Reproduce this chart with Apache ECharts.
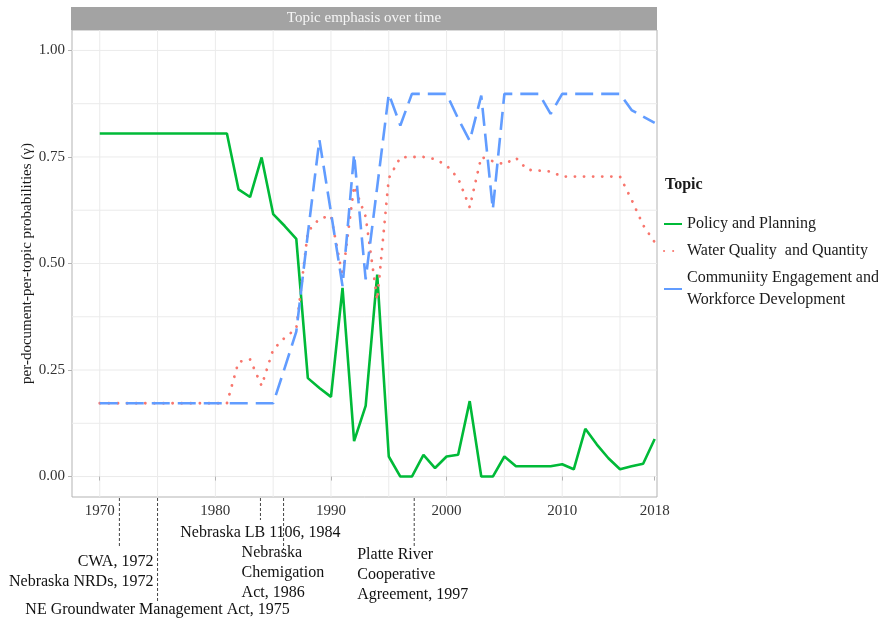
<!DOCTYPE html>
<html><head><meta charset="utf-8">
<script src="https://cdn.jsdelivr.net/npm/echarts@6/dist/echarts.min.js"></script>
<style>html,body{margin:0;padding:0;background:#fff}#main{width:878px;height:623px}</style>
</head><body><div id="main"></div>
<script>
const years = [1970,1971,1972,1973,1974,1975,1976,1977,1978,1979,1980,1981,1982,1983,1984,1985,1986,1987,1988,1989,
  1990,1991,1992,1993,1994,1995,1996,1997,1998,1999,2000,2001,2002,2003,2004,2005,2006,2007,2008,2009,
  2010,2011,2012,2013,2014,2015,2016,2017,2018];
const policyPlanning = [0.805,0.805,0.805,0.805,0.805,0.805,0.805,0.805,0.805,0.805,0.805,0.805,0.674,0.656,0.749,0.616,0.588,0.558,0.231,0.208,
  0.187,0.443,0.083,0.166,0.474,0.047,0.0,0.0,0.051,0.020,0.047,0.051,0.177,0.0,0.0,0.047,0.024,0.024,0.024,0.024,
  0.029,0.017,0.112,0.075,0.043,0.017,0.024,0.030,0.088];
const waterQuality = [0.172,0.172,0.172,0.172,0.172,0.172,0.172,0.172,0.172,0.172,0.172,0.172,0.269,0.275,0.213,0.298,0.326,0.347,0.575,0.605,
  0.612,0.47,0.682,0.61,0.414,0.70,0.749,0.75,0.75,0.745,0.73,0.70,0.632,0.75,0.74,0.733,0.748,0.72,0.718,0.716,
  0.704,0.704,0.704,0.704,0.704,0.704,0.65,0.59,0.55];
const communityEngagement = [0.172,0.172,0.172,0.172,0.172,0.172,0.172,0.172,0.172,0.172,0.172,0.172,0.172,0.172,0.172,0.172,0.255,0.34,0.57,0.79,
  0.62,0.447,0.757,0.463,0.68,0.898,0.824,0.898,0.898,0.898,0.898,0.84,0.788,0.894,0.627,0.898,0.898,0.898,0.898,0.851,
  0.898,0.898,0.898,0.898,0.898,0.898,0.86,0.845,0.830];
const topicNames = ['Policy and Planning', 'Water Quality  and Quantity', 'Communiity Engagement and Workforce Development'];
const legendLabels = ['Policy and Planning', 'Water Quality  and Quantity', 'Communiity Engagement and\nWorkforce Development'];
const xTickValues = [1970, 1980, 1990, 2000, 2010, 2018];
const yTickValues = [0, 0.25, 0.5, 0.75, 1];
const xGridValues = [1970, 1975, 1980, 1985, 1990, 1995, 2000, 2005, 2010, 2015];
const yGridValues = [0, 0.125, 0.25, 0.375, 0.5, 0.625, 0.75, 0.875, 1];
const eventPositions = [1971.7, 1975, 1983.9, 1985.9, 1997.2];
const eventLabels = ['CWA, 1972\nNebraska NRDs, 1972', 'NE Groundwater Management Act, 1975', 'Nebraska LB 1106, 1984',
  'Nebraska\nChemigation\nAct, 1986', 'Platte River\nCooperative\nAgreement, 1997'];
const chartTitle = 'Topic emphasis over time';
const yAxisTitle = 'per-document-per-topic probabilities (\u03b3)';
const legendTitle = 'Topic';

// layout (pixels relative to axis bottom / event line)
const annotLayout = [
  {len: 51, dx: 34, top: 55, align: 'right'},
  {len: 106, dx: 0, top: 103, align: 'center'},
  {len: 23, dx: 0, top: 26, align: 'center'},
  {len: 53, dx: -42, top: 46, align: 'left'},
  {len: 50, dx: -57, top: 48, align: 'left'}
];
const colors = ['#00BA38', '#F8766D', '#619CFF'];
const serif = '"Liberation Serif", "Times New Roman", serif';

const chart = echarts.init(document.getElementById('main'), null, {renderer: 'canvas'});
const mk = arr => years.map((y, i) => [y, arr[i]]);

const option = {
  animation: false,
  backgroundColor: '#fff',
  grid: {left: 72, right: 221, top: 30, bottom: 126, show: true, borderColor: '#b3b3b3', borderWidth: 1, containLabel: false},
  xAxis: {
    type: 'value', min: 1967.6, max: 2018.2,
    splitLine: {show: false},
    axisLine: {show: false},
    axisTick: {show: true, customValues: xTickValues, length: 4, lineStyle: {color: '#b3b3b3'}},
    axisLabel: {customValues: xTickValues, margin: 7, fontSize: 15, fontFamily: serif, color: '#333', formatter: v => String(v)}
  },
  yAxis: {
    type: 'value', min: -0.048, max: 1.048,
    splitLine: {show: false},
    axisLine: {show: false},
    axisTick: {show: true, customValues: yTickValues, length: 4, lineStyle: {color: '#b3b3b3'}},
    axisLabel: {customValues: yTickValues, margin: 7, fontSize: 15, fontFamily: serif, color: '#333', formatter: v => v.toFixed(2)},
    name: yAxisTitle, nameLocation: 'middle', nameGap: 37, nameMoveOverlap: false,
    nameTextStyle: {fontSize: 15, fontFamily: serif, color: '#1a1a1a'}
  },
  legend: {
    data: topicNames, orient: 'vertical', left: 658, top: 208, itemGap: 5, itemWidth: 18, itemHeight: 10,
    itemStyle: {opacity: 0},
    textStyle: {fontSize: 16, fontFamily: serif, color: '#1a1a1a', lineHeight: 22},
    formatter: name => legendLabels[topicNames.indexOf(name)]
  },
  graphic: [
    {type: 'rect', left: 71, top: 7, shape: {width: 586, height: 23}, style: {fill: '#a3a3a3'}, silent: true},
    {type: 'text', x: 364, y: 18.5, style: {text: chartTitle, fill: '#f5f5f5', font: '15px ' + serif, align: 'center', verticalAlign: 'middle', textAlign: 'center', textVerticalAlign: 'middle'}},
    {type: 'text', x: 665, y: 185, style: {text: legendTitle, fill: '#1a1a1a', font: 'bold 16px ' + serif, align: 'left', verticalAlign: 'middle', textAlign: 'left', textVerticalAlign: 'middle'}}
  ],
  series: [
    {type: 'custom', silent: true, z: 0, data: xGridValues.map(v => [v, 0]),
      renderItem: (params, api) => {
        const x = api.coord([api.value(0), 0])[0]; const cs = params.coordSys;
        return {type: 'line', shape: {x1: x, y1: cs.y, x2: x, y2: cs.y + cs.height}, style: {stroke: '#ebebeb', lineWidth: 1}};
      }},
    {type: 'custom', silent: true, z: 0, data: yGridValues.map(v => [1990, v]),
      renderItem: (params, api) => {
        const y = api.coord([1990, api.value(1)])[1]; const cs = params.coordSys;
        return {type: 'line', shape: {x1: cs.x, y1: y, x2: cs.x + cs.width, y2: y}, style: {stroke: '#ebebeb', lineWidth: 1}};
      }},
    {type: 'custom', silent: true, clip: false, z: 5, data: eventPositions.map((p, i) => [p, 0, i]),
      renderItem: (params, api) => {
        const x = api.coord([api.value(0), 0])[0]; const cs = params.coordSys;
        const bottom = cs.y + cs.height; const i = api.value(2); const L = annotLayout[i];
        return {type: 'group', children: [
          {type: 'line', shape: {x1: x, y1: bottom + 1, x2: x, y2: bottom + L.len}, style: {stroke: '#444', lineWidth: 1, lineDash: [3, 2]}},
          {type: 'text', x: x + L.dx, y: bottom + L.top, style: {text: eventLabels[i], fill: '#111', font: '16px ' + serif,
            align: L.align, textAlign: L.align, verticalAlign: 'top', textVerticalAlign: 'top', lineHeight: 20}}
        ]};
      }},
    {name: topicNames[0], type: 'line', data: mk(policyPlanning), symbol: 'none', z: 3,
      lineStyle: {color: colors[0], width: 2.6, type: 'solid'}, itemStyle: {color: colors[0]}},
    {name: topicNames[1], type: 'line', data: mk(waterQuality), symbol: 'none', z: 3,
      lineStyle: {color: colors[1], width: 2.8, type: [0.1, 9], cap: 'round'}, itemStyle: {color: colors[1]}},
    {name: topicNames[2], type: 'line', data: mk(communityEngagement), symbol: 'none', z: 3,
      lineStyle: {color: colors[2], width: 2.6, type: [18, 8]}, itemStyle: {color: colors[2]}}
  ]
};
chart.setOption(option);
</script></body></html>
